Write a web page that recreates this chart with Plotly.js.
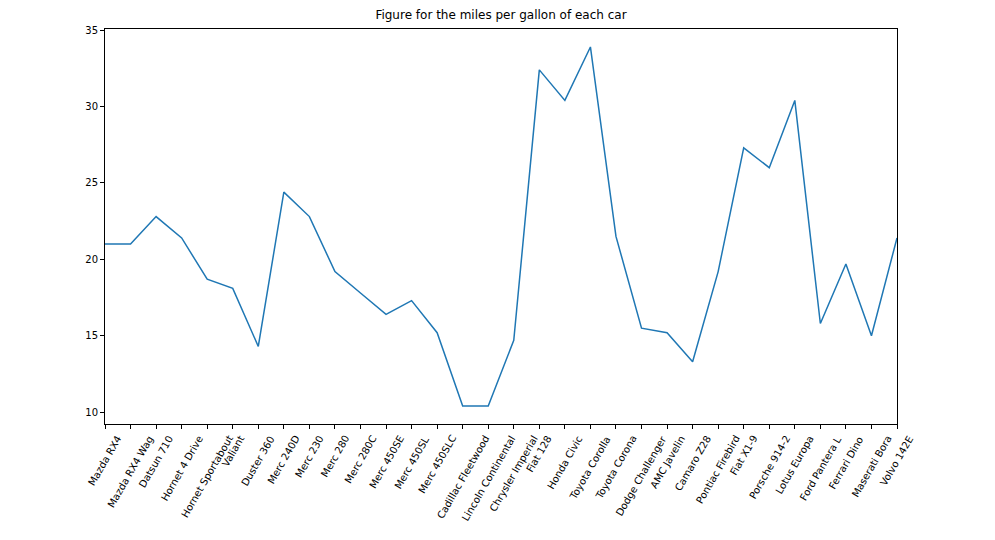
<!DOCTYPE html>
<html>
<head>
<meta charset="utf-8">
<script src="https://cdn.plot.ly/plotly-3.0.1.min.js"></script>
<style>
  html, body { margin: 0; padding: 0; background: #fff; }
  #chart { width: 995px; height: 540px; }
</style>
</head>
<body>
<div id="chart"></div>
<script>
// mtcars: nombre del coche y millas por galón
const cars = ['Mazda RX4', 'Mazda RX4 Wag', 'Datsun 710', 'Hornet 4 Drive', 'Hornet Sportabout',
  'Valiant', 'Duster 360', 'Merc 240D', 'Merc 230', 'Merc 280', 'Merc 280C', 'Merc 450SE',
  'Merc 450SL', 'Merc 450SLC', 'Cadillac Fleetwood', 'Lincoln Continental', 'Chrysler Imperial',
  'Fiat 128', 'Honda Civic', 'Toyota Corolla', 'Toyota Corona', 'Dodge Challenger', 'AMC Javelin',
  'Camaro Z28', 'Pontiac Firebird', 'Fiat X1-9', 'Porsche 914-2', 'Lotus Europa', 'Ford Pantera L',
  'Ferrari Dino', 'Maserati Bora', 'Volvo 142E'];
const mpg = [21.0, 21.0, 22.8, 21.4, 18.7, 18.1, 14.3, 24.4, 22.8, 19.2, 17.8, 16.4, 17.3, 15.2,
  10.4, 10.4, 14.7, 32.4, 30.4, 33.9, 21.5, 15.5, 15.2, 13.3, 19.2, 27.3, 26.0, 30.4, 15.8, 19.7,
  15.0, 21.4];
const yTicks = [10, 15, 20, 25, 30, 35];

const font = { family: 'DejaVu Sans, sans-serif', size: 10, color: '#000' };

// etiquetas rotadas centradas en cada tick (como matplotlib)
const labels = cars.map(c => ({
  x: c, xref: 'x', y: 0, yref: 'paper',
  text: c, showarrow: false, textangle: -60,
  xanchor: 'center', yanchor: 'top', yshift: -7,
  font: font
}));

const trace = {
  x: cars, y: mpg, type: 'scatter', mode: 'lines',
  line: { color: '#1f77b4', width: 1.5 },
  hoverinfo: 'x+y'
};

const layout = {
  width: 995, height: 540,
  margin: { l: 105, r: 98, t: 29, b: 116 },
  paper_bgcolor: '#fff', plot_bgcolor: '#fff',
  showlegend: false,
  font: font,
  title: {
    text: 'Figure for the miles per gallon of each car',
    font: { family: 'DejaVu Sans, sans-serif', size: 12, color: '#000' },
    x: 0.5, xref: 'paper', y: 1, yref: 'container', yanchor: 'top', pad: { t: 11 }
  },
  xaxis: {
    type: 'category', range: [0, cars.length - 1],
    showgrid: false, zeroline: false,
    showline: true, mirror: true, linecolor: '#000', linewidth: 1,
    ticks: 'outside', ticklen: 4, tickcolor: '#000', tickwidth: 1,
    showticklabels: false
  },
  yaxis: {
    range: [9.225, 35.075],
    tickvals: yTicks, ticktext: yTicks.map(String),
    showgrid: false, zeroline: false,
    showline: true, mirror: true, linecolor: '#000', linewidth: 1,
    ticks: 'outside', ticklen: 4, tickcolor: '#000', tickwidth: 1,
    tickfont: font
  },
  annotations: labels
};

Plotly.newPlot('chart', [trace], layout, { displayModeBar: false, staticPlot: true });
</script>
</body>
</html>
